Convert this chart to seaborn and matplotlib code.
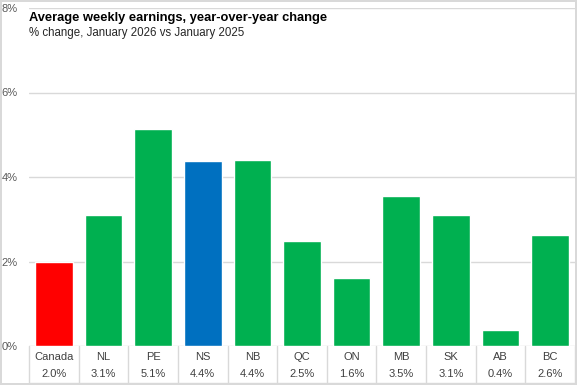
import matplotlib
matplotlib.use('Agg')
import matplotlib.pyplot as plt
import matplotlib.transforms as mtransforms
import seaborn as sns
import pandas as pd

regions = ["Canada", "NL", "PE", "NS", "NB", "QC", "ON", "MB", "SK", "AB", "BC"]
changes = [2.0, 3.1, 5.13, 4.38, 4.4, 2.48, 1.6, 3.54, 3.1, 0.38, 2.63]
table_labels = ["2.0%", "3.1%", "5.1%", "4.4%", "4.4%", "2.5%", "1.6%", "3.5%", "3.1%", "0.4%", "2.6%"]
bar_colours = ["#FF0000", "#00B050", "#00B050", "#0070C0", "#00B050", "#00B050",
               "#00B050", "#00B050", "#00B050", "#00B050", "#00B050"]

sns.set_theme(style="white")
plt.rcParams['font.family'] = ['Liberation Sans Narrow', 'Liberation Sans', 'DejaVu Sans']

df = pd.DataFrame({"region": regions, "change": changes})

fig = plt.figure(figsize=(5.77, 3.85), dpi=100)
fig.patch.set_edgecolor('#d9d9d9')
fig.patch.set_linewidth(1.5)
ax = fig.add_axes([29 / 577, 1 - 346 / 385, 546 / 577, 338 / 385])

sns.barplot(data=df, x="region", y="change", hue="region", palette=bar_colours,
            order=regions, legend=False, width=0.76, saturation=1, ax=ax, zorder=3)

ax.set_ylim(0, 8)
ax.set_xlim(-0.5, len(regions) - 0.5)
ax.set_yticks([0, 2, 4, 6, 8])
ax.set_yticklabels([f"{t}%" for t in [0, 2, 4, 6, 8]], fontsize=8, color="#595959")
ax.tick_params(axis='y', length=0, pad=8)
ax.yaxis.grid(True, color="#d9d9d9", linewidth=1, zorder=0)
for s in ax.spines.values():
    s.set_visible(False)
ax.set_xlabel("")
ax.set_ylabel("")
ax.set_xticks([])

# data table below the axis
trans = mtransforms.blended_transform_factory(ax.transData, ax.transAxes)
row1 = -11 / 338
row2 = -28 / 338
bottom = -37 / 338
for i, (name, lab) in enumerate(zip(regions, table_labels)):
    ax.text(i, row1, name, transform=trans, ha="center", va="center", fontsize=8, color="#404040")
    ax.text(i, row2, lab, transform=trans, ha="center", va="center", fontsize=8, color="#404040")
for b in range(len(regions) + 1):
    ax.plot([b - 0.5, b - 0.5], [0, bottom], transform=trans, color="#d9d9d9",
            linewidth=1, clip_on=False)
ax.plot([-0.5, len(regions) - 0.5], [bottom, bottom], transform=trans, color="#d9d9d9",
        linewidth=1, clip_on=False)

fig.text(29 / 577, 1 - 18 / 385, "Average weekly earnings, year-over-year change",
         fontsize=9.3, fontweight="bold", color="#000000", va="center", ha="left")
fig.text(29 / 577, 1 - 33 / 385, "% change, January 2026 vs January 2025",
         fontsize=8.3, color="#262626", va="center", ha="left")

fig.savefig("out.png", dpi=100)
